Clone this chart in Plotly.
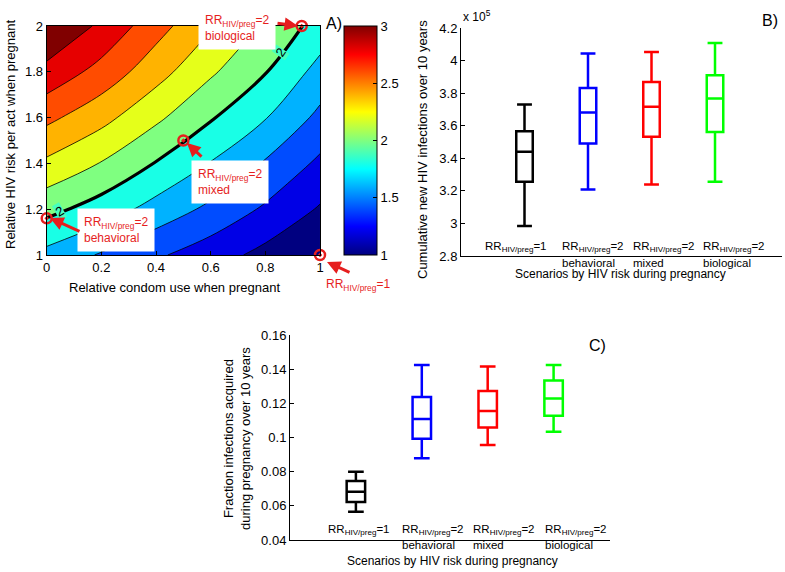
import plotly.graph_objects as go

W, H = 785, 572
FONT = "Liberation Sans, Arial, sans-serif"
RED = "rgb(230,30,30)"

cond_x = [0.0, 0.2, 0.4, 0.6, 0.8, 1.0]
risk_y = [1.0, 1.2, 1.4, 1.6, 1.8, 2.0]
rr_grid = [
    [1.74, 1.58, 1.43, 1.29, 1.14, 1.00],
    [2.06, 1.91, 1.725, 1.555, 1.37, 1.18],
    [2.36, 2.19, 1.99, 1.79, 1.58, 1.36],
    [2.65, 2.465, 2.24, 2.02, 1.81, 1.55],
    [2.94, 2.73, 2.48, 2.23, 2.01, 1.73],
    [3.20, 2.96, 2.68, 2.42, 2.17, 1.92],
]
scen_cond = [0.933, 0.5, 0.0, 1.0]
scen_risk = [2.0, 1.5, 1.16, 1.0]
rr2_label_x = [0.045, 0.855]
rr2_label_y = [1.19, 1.885]

# ---------------- Panel B data (x 10^5) ----------------
pos_b = [1, 2, 3, 4]
b_low = [2.984, 3.209, 3.239, 3.256]
b_q1 = [3.256, 3.491, 3.532, 3.562]
b_med = [3.440, 3.681, 3.716, 3.767]
b_q3 = [3.566, 3.832, 3.869, 3.910]
b_high = [3.730, 4.043, 4.053, 4.108]

# ---------------- Panel C data ----------------
pos_c = [1, 2, 3, 4]
c_low = [0.0566, 0.0878, 0.0956, 0.1034]
c_q1 = [0.0622, 0.0993, 0.1058, 0.1128]
c_med = [0.0683, 0.1108, 0.1155, 0.1229]
c_q3 = [0.0745, 0.1237, 0.1272, 0.1333]
c_high = [0.0800, 0.1424, 0.1415, 0.1424]

box_colors = ["black", "rgb(0,0,255)", "rgb(255,0,0)", "rgb(0,255,0)"]
line1_labels = ["RR<sub>HIV/preg</sub>=1", "RR<sub>HIV/preg</sub>=2",
                "RR<sub>HIV/preg</sub>=2", "RR<sub>HIV/preg</sub>=2"]
line2_labels = ["", "behavioral", "mixed", "biological"]
lab_x_b = [0.36, 1.57, 2.69, 3.80]
lab_x_c = [0.56, 1.68, 2.76, 3.85]

jet = [[0.0, "rgb(0,0,128)"], [0.125, "rgb(0,0,255)"], [0.375, "rgb(0,255,255)"],
       [0.625, "rgb(255,255,0)"], [0.875, "rgb(255,0,0)"], [1.0, "rgb(128,0,0)"]]


def px(p):
    return p / W


def py(p):
    return 1 - p / H


fig = go.Figure()

fig.add_trace(go.Contour(
    x=cond_x, y=risk_y, z=rr_grid, colorscale=jet, autocontour=False,
    contours=dict(start=1.2, end=3.0, size=0.2, coloring="fill", showlines=True),
    line=dict(color="black", width=0.8, smoothing=1.0),
    showscale=False, hoverinfo="skip", xaxis="x", yaxis="y"))
fig.add_trace(go.Contour(
    x=cond_x, y=risk_y, z=rr_grid, autocontour=False,
    contours=dict(start=2.0, end=2.0, size=1.0, coloring="none", showlabels=False),
    line=dict(color="black", width=3.2, smoothing=1.0),
    showscale=False, hoverinfo="skip", xaxis="x", yaxis="y"))
fig.add_trace(go.Scatter(
    x=scen_cond, y=scen_risk, mode="markers", cliponaxis=False,
    marker=dict(symbol="circle-open-dot", size=10, color=RED, line=dict(width=2.5, color=RED)),
    xaxis="x", yaxis="y", hoverinfo="skip"))
fig.add_trace(go.Scatter(
    x=[0.5], y=[1.5], mode="markers", hoverinfo="skip",
    marker=dict(size=0.1, opacity=0, color=[2], cmin=1, cmax=3, colorscale=jet, showscale=True,
                colorbar=dict(x=px(344), xanchor="left", y=py(26), yanchor="top",
                              len=(255 - 26) / H, lenmode="fraction", thickness=33,
                              thicknessmode="pixels", xpad=0, ypad=0,
                              outlinecolor="black", outlinewidth=1,
                              tickvals=[1, 1.5, 2, 2.5, 3], ticks="inside", ticklen=4,
                              tickcolor="black",
                              tickfont=dict(family=FONT, size=13, color="black"))),
    xaxis="x", yaxis="y"))

for i in range(4):
    fig.add_trace(go.Box(
        x=[pos_b[i]], q1=[b_q1[i]], median=[b_med[i]], q3=[b_q3[i]],
        lowerfence=[b_low[i]], upperfence=[b_high[i]], width=0.26, whiskerwidth=0.9,
        line=dict(color=box_colors[i], width=2.5), fillcolor="rgba(0,0,0,0)",
        boxpoints=False, xaxis="x2", yaxis="y2", hoverinfo="skip"))
for i in range(4):
    fig.add_trace(go.Box(
        x=[pos_c[i]], q1=[c_q1[i]], median=[c_med[i]], q3=[c_q3[i]],
        lowerfence=[c_low[i]], upperfence=[c_high[i]], width=0.28, whiskerwidth=0.85,
        line=dict(color=box_colors[i], width=2.5), fillcolor="rgba(0,0,0,0)",
        boxpoints=False, xaxis="x3", yaxis="y3", hoverinfo="skip"))

tickfont = dict(family=FONT, size=13, color="black")
labfont = dict(family=FONT, size=11.5, color="black")
ann = []

for i in range(4):
    ann.append(dict(x=lab_x_b[i], y=2.808, xref="x2", yref="y2", text=line1_labels[i],
                    xanchor="left", yanchor="bottom", showarrow=False, font=labfont,
                    borderpad=0))
    if line2_labels[i]:
        ann.append(dict(x=lab_x_b[i], y=2.802, xref="x2", yref="y2", text=line2_labels[i],
                        xanchor="left", yanchor="top", showarrow=False, font=labfont,
                        borderpad=0))
    ann.append(dict(x=lab_x_c[i], y=0.0412, xref="x3", yref="y3", text=line1_labels[i],
                    xanchor="left", yanchor="bottom", showarrow=False, font=labfont,
                    borderpad=0))
    if line2_labels[i]:
        ann.append(dict(x=lab_x_c[i], y=0.0414, xref="x3", yref="y3", text=line2_labels[i],
                        xanchor="left", yanchor="top", showarrow=False, font=labfont,
                        borderpad=0))


def title(text, x, y, angle=0, size=13):
    ann.append(dict(x=px(x), y=py(y), xref="paper", yref="paper", text=text, textangle=angle,
                    showarrow=False, xanchor="center", yanchor="middle",
                    font=dict(family=FONT, size=size, color="black")))


title("Relative condom use when pregnant", 174, 287)
title("Relative HIV risk per act when pregnant", 10, 135, -90)
title("Cumulative new HIV infections over 10 years", 422, 150, -90)
title("Scenarios by HIV risk during pregnancy", 620, 274, size=12)
title("Fraction infections acquired<br>during pregnancy over 10 years", 237, 439, -90)
title("Scenarios by HIV risk during pregnancy", 452, 561, size=12)
title("A)", 334, 23, size=16)
title("B)", 770, 20, size=16)
title("C)", 597, 345, size=16)
ann.append(dict(x=px(461), y=py(16), xref="paper", yref="paper", text="x 10<sup>5</sup>",
                showarrow=False, xanchor="left", yanchor="middle",
                font=dict(family=FONT, size=12, color="black")))

for lx, ly, ang in zip(rr2_label_x, rr2_label_y, [-30, -55]):
    ann.append(dict(x=lx, y=ly, xref="x", yref="y", text="2", textangle=ang, showarrow=False,
                    bgcolor="rgb(70,255,190)", borderpad=0,
                    font=dict(family=FONT, size=13, color="black")))


def red_box(text, xp, yp, bg=True):
    ann.append(dict(x=px(xp), y=py(yp), xref="paper", yref="paper", text=text,
                    showarrow=False, xanchor="left", yanchor="middle", align="left",
                    bgcolor="white" if bg else "rgba(0,0,0,0)", borderpad=6,
                    font=dict(family=FONT, size=12, color=RED)))


red_box("RR<sub>HIV/preg</sub>=2<br>biological", 198, 28)
red_box("RR<sub>HIV/preg</sub>=2<br>mixed", 191, 182)
red_box("RR<sub>HIV/preg</sub>=2<br>behavioral", 77, 230)
red_box("RR<sub>HIV/preg</sub>=1", 319, 285, bg=False)


def arrow(hx, hy, tx, ty):
    ann.append(dict(x=px(hx), y=py(hy), xref="paper", yref="paper", text="", showarrow=True,
                    ax=tx - hx, ay=ty - hy, arrowcolor=RED, arrowwidth=3, arrowhead=2,
                    arrowsize=0.9))


arrow(298, 26, 276, 23)
arrow(187, 143, 203, 158)
arrow(50, 218, 81, 232)
arrow(327, 262, 351, 273)

axcommon = dict(showgrid=False, zeroline=False, automargin=False, linecolor="black",
                linewidth=1, tickcolor="black", tickfont=tickfont)

fig.update_layout(
    template="none",
    width=W, height=H, margin=dict(l=0, r=0, t=0, b=0, autoexpand=False),
    paper_bgcolor="white", plot_bgcolor="white", showlegend=False,
    font=dict(family=FONT, size=13, color="black"),
    annotations=ann,
    xaxis=dict(domain=[px(46.7), px(320)], range=[0, 1], tickvals=[0, 0.2, 0.4, 0.6, 0.8, 1],
               showline=True, mirror=True, ticks="inside", ticklen=4, **axcommon),
    yaxis=dict(domain=[py(255), py(26)], range=[1, 2], tickvals=[1, 1.2, 1.4, 1.6, 1.8, 2],
               showline=True, mirror=True, ticks="inside", ticklen=4, **axcommon),
    xaxis2=dict(domain=[px(461), px(782)], range=[0, 5.055], showticklabels=False,
                showline=True, ticks="", anchor="y2", **axcommon),
    yaxis2=dict(domain=[py(256), py(28)], range=[2.8, 4.2], tick0=2.8, dtick=0.2,
                showline=True, ticks="inside", ticklen=4, anchor="x2", **axcommon),
    xaxis3=dict(domain=[px(290), px(610)], range=[0, 4.856], showticklabels=False,
                showline=True, ticks="", anchor="y3", **axcommon),
    yaxis3=dict(domain=[py(540), py(335)], range=[0.04, 0.16], tick0=0.04, dtick=0.02,
                showline=True, ticks="inside", ticklen=4, anchor="x3", **axcommon),
)

fig.write_html("out.html", config={"displayModeBar": False},
               post_script="document.body.style.margin='0px';")
